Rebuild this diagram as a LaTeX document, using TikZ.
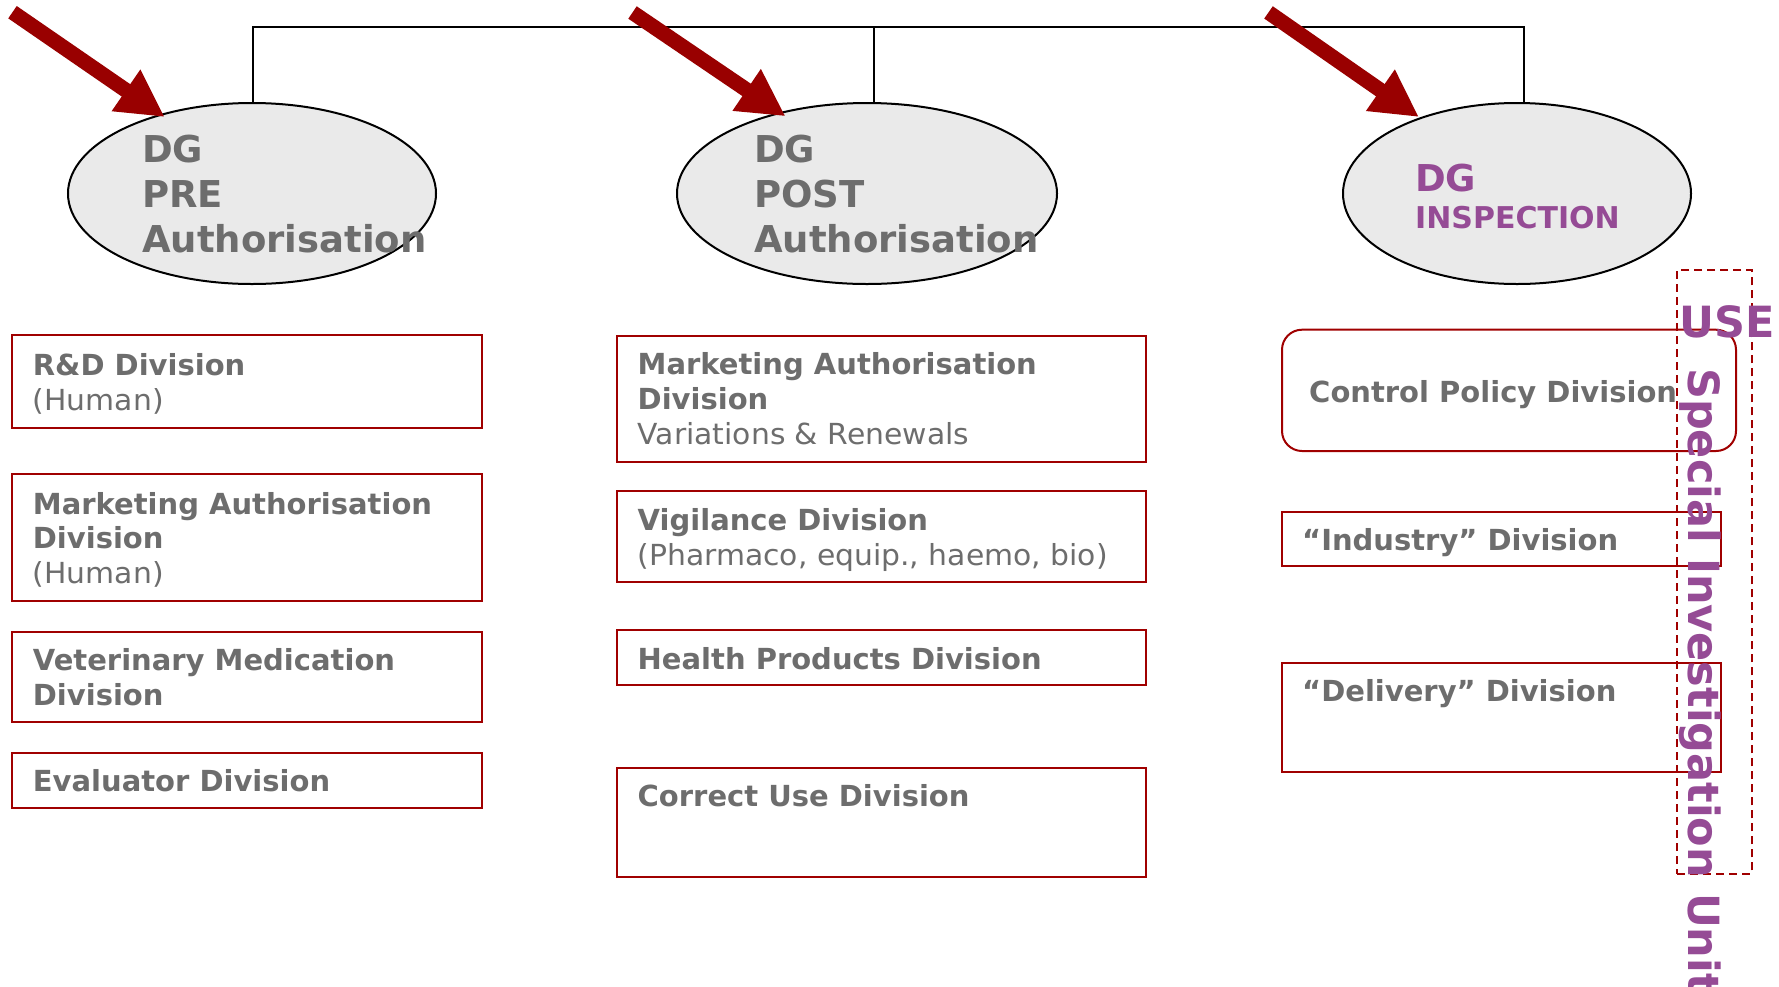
\documentclass[tikz,border=0pt]{standalone}
\usepackage{fontspec}
\setmainfont{DejaVu Sans}
\newfontfamily\regwide[FakeStretch=1.028]{DejaVu Sans}
\usetikzlibrary{arrows.meta,shapes.geometric,calc}

\definecolor{txtgray}{HTML}{6D6D6D}
\definecolor{dgpurple}{HTML}{954B95}
\definecolor{boxred}{HTML}{A00000}
\definecolor{arrowred}{HTML}{990000}
\definecolor{ovalfill}{HTML}{EAEAEA}

\begin{document}
\begin{tikzpicture}[x=1pt,y=-1pt,
  dgoval/.style={ellipse, draw=black, line width=2pt, fill=ovalfill,
    inner sep=0pt, outer sep=0pt, minimum height=181pt},
  busline/.style={draw=black, line width=2pt},
  bigarrow/.style={draw=arrowred, line width=15pt,
    -{Triangle[length=47pt,width=47pt]}},
  divbox/.style={rectangle, draw=boxred, line width=2pt, inner sep=0pt,
    outer sep=0pt, anchor=north west},
  unitbox/.style={rectangle, draw=boxred, line width=2pt, dash pattern=on 8pt off 5pt,
    inner sep=0pt, outer sep=0pt, anchor=north west},
  % multi-line labels are placed by the baseline of their last line
  ovaltext/.style={anchor=base west, inner sep=0pt, text=txtgray, align=left,
    font=\fontsize{37}{45}\selectfont\bfseries},
  divtext/.style={anchor=base west, inner sep=0pt, text=txtgray, align=left,
    font=\fontsize{29}{34.6}\selectfont},
  purpletext/.style={anchor=base west, inner sep=0pt, text=dgpurple,
    font=\bfseries}
]
\fill[white] (0,0) rectangle (1779,986);
\useasboundingbox (0,0) rectangle (1779,986);

% directorates
\node[dgoval, minimum width=368pt] (pre)  at (252,193.5) {};
\node[dgoval, minimum width=380pt] (post) at (867,193.5) {};
\node[dgoval, minimum width=348pt] (insp) at (1517,193.5) {};

% bus linking the three directorates
\coordinate (bus) at (0,27);
\draw[busline] ([xshift=1pt]pre.north) -- ([xshift=1pt]pre.north |- bus)
  -- ([xshift=7pt]insp.north |- bus) -- ([xshift=7pt]insp.north);
\draw[busline] ([xshift=7pt]post.north) -- ([xshift=7pt]post.north |- bus);

% pointer arrows
\coordinate (t1) at (12.5,12.2);
\coordinate (t2) at (632.5,12.5);
\coordinate (t3) at (1268.5,12.4);
\draw[bigarrow, shorten >=-4pt] (t1) -- (pre.139.5);
\draw[bigarrow, shorten >=-6pt] (t2) -- (post.137.9);
\draw[bigarrow, shorten >=2pt]  (t3) -- (insp.142.3);

% directorate titles
\node[ovaltext] (pret) at (142,252) {DG\\PRE\\Authorisation};
\node[ovaltext] (postt) at (754,252) {DG\\POST\\Authorisation};
\node[purpletext, font=\fontsize{37}{45}\selectfont\bfseries] (inspdg) at (1415,191) {DG};
\node[purpletext, font=\fontsize{30}{36}\selectfont\bfseries] (inspt) at (1415,228) {INSPECTION};

% pre-authorisation divisions
\node[divbox, minimum width=470pt, minimum height=92.7pt] (rd)  at (12,335) {};
\node[divbox, minimum width=470pt, minimum height=126.4pt] (mah) at (12,474.3) {};
\node[divbox, minimum width=470pt, minimum height=90pt] (vet) at (12,631.7) {};
\node[divbox, minimum width=470pt, minimum height=55.3pt] (eva) at (12,753) {};
\node[divtext] at (32.7,410) {\textbf{R\&D Division}\\{\regwide(Human)}};
\node[divtext] at (32.7,583.3) {\textbf{Marketing Authorisation}\\\textbf{Division}\\{\regwide(Human)}};
\node[divtext] at (32.7,705) {\textbf{Veterinary Medication}\\\textbf{Division}};
\node[divtext] at (32.7,791.7) {\textbf{Evaluator Division}};

% post-authorisation divisions
\node[divbox, minimum width=529pt, minimum height=126.2pt] (mav) at (617,335.5) {};
\node[divbox, minimum width=529pt, minimum height=90.7pt] (vig) at (617,491.3) {};
\node[divbox, minimum width=529pt, minimum height=55.3pt] (hp)  at (617,629.7) {};
\node[divbox, minimum width=529pt, minimum height=108.4pt] (cu) at (617,768.4) {};
\node[divtext] at (637.5,444) {\textbf{Marketing Authorisation}\\\textbf{Division}\\{\regwide Variations \& Renewals}};
\node[divtext] at (637.5,565) {\textbf{Vigilance Division}\\{\regwide(Pharmaco, equip., haemo, bio)}};
\node[divtext] at (637.5,669) {\textbf{Health Products Division}};
\node[divtext] at (637.5,806.5) {\textbf{Correct Use Division}};

% inspection divisions
\node[divbox, rounded corners=20pt, minimum width=454pt, minimum height=121.3pt] (cp) at (1282,329.7) {};
\node[divbox, minimum width=439pt, minimum height=54.5pt] (ind) at (1282,511.5) {};
\node[divbox, minimum width=439pt, minimum height=109.5pt] (del) at (1282,662.5) {};
\node[divtext] at (1309,402.8) {\textbf{Control Policy Division}};
\node[divtext] at (1302,550) {\textbf{“Industry” Division}};
\node[divtext] at (1302,701.6) {\textbf{“Delivery” Division}};

% special investigation unit
\node[unitbox, minimum width=74.7pt, minimum height=603.6pt] (siu) at (1677,270) {};
\node[purpletext, font=\fontsize{43}{50}\selectfont\bfseries] (use) at (1679,337) {USE};
\node[purpletext, font=\fontsize{43}{50}\selectfont\bfseries, rotate=-90] (siut) at (1688,368) {Special Investigation Unit};
\end{tikzpicture}
\end{document}
